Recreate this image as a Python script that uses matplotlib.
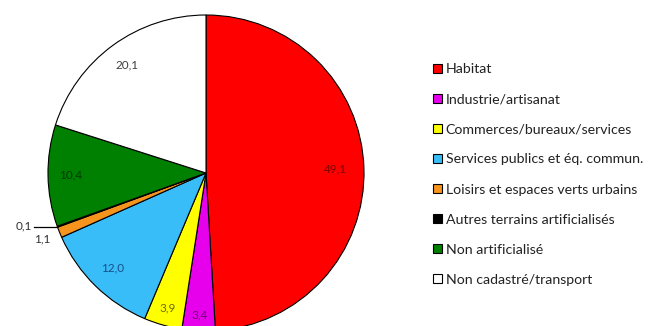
import numpy as np
import matplotlib
matplotlib.use("Agg")
import matplotlib.pyplot as plt

categories = [
    "Habitat",
    "Industrie/artisanat",
    "Commerces/bureaux/services",
    "Services publics et éq. commun.",
    "Loisirs et espaces verts urbains",
    "Autres terrains artificialisés",
    "Non artificialisé",
    "Non cadastré/transport",
]
values = [49.1, 3.4, 3.9, 12.0, 1.1, 0.1, 10.4, 20.1]
value_labels = ["49,1", "3,4", "3,9", "12,0", "1,1", "0,1", "10,4", "20,1"]

colors = ["#ff0000", "#e600ec", "#ffff00", "#38bdf8", "#f7941d", "#000000", "#008000", "#ffffff"]
label_colors = ["#7a0000", "#6e0070", "#6e6e00", "#184f8a", "#333333", "#333333", "#003800", "#404040"]
label_r = [0.82, 0.90, 0.89, 0.84, 1.12, None, 0.86, 0.85]

plt.rcParams["font.family"] = ["Lato", "DejaVu Sans"]

W, H = 649, 326
fig = plt.figure(figsize=(W / 100, H / 100), dpi=100)
ax = fig.add_axes([0, 0, 1, 1])

cx, cy, R = 206, 153, 158
wedges, _ = ax.pie(
    values, colors=colors, startangle=90, counterclock=False,
    center=(cx, cy), radius=R, frame=True,
    wedgeprops=dict(edgecolor="black", linewidth=0.8),
)
ax.set_xlim(0, W)
ax.set_ylim(0, H)
ax.axis("off")

for w, lab, col, r in zip(wedges, value_labels, label_colors, label_r):
    mid = np.deg2rad((w.theta1 + w.theta2) / 2)
    if r is None:
        # leader line for the tiny slice
        ex, ey = cx + R * np.cos(mid), cy + R * np.sin(mid)
        ax.plot([ex - 23, ex], [ey, ey], color="black", lw=0.9)
        ax.text(ex - 25, ey + 1, lab, ha="right", va="center", fontsize=8.5, color=col)
        continue
    ax.text(cx + r * R * np.cos(mid), cy + r * R * np.sin(mid), lab,
            ha="center", va="center", fontsize=8.5, color=col)

leg = ax.legend(
    wedges, categories, loc="upper left", bbox_to_anchor=(433 / W, 1 - 63 / H),
    bbox_transform=fig.transFigure, frameon=False, fontsize=10.2,
    handlelength=0.6, handleheight=0.6, handletextpad=0.3,
    labelspacing=1.28, borderaxespad=0, borderpad=0,
)
for t in leg.get_texts():
    t.set_color("#222222")

fig.savefig("out.png", dpi=100)
